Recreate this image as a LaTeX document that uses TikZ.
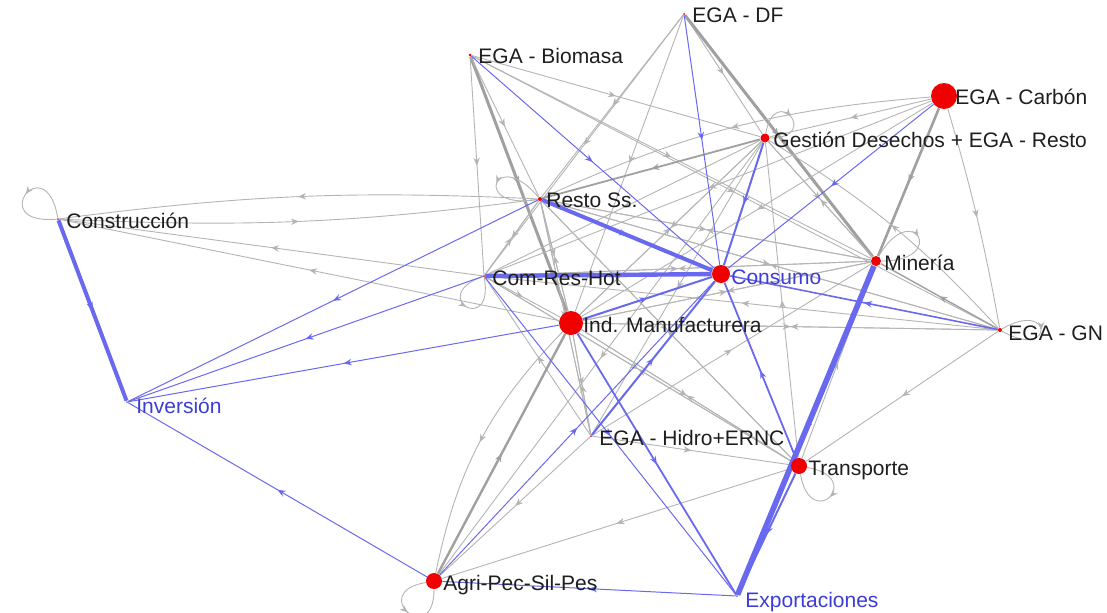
\documentclass[tikz,border=0pt]{standalone}
\usepackage{fontspec}
\setmainfont{Liberation Sans}
\usepackage{xcolor}
\usetikzlibrary{arrows.meta, positioning, decorations.markings, backgrounds}

\definecolor{dotred}{RGB}{240,0,0}
\definecolor{lnkgray}{RGB}{180,180,180}
\definecolor{lnkgraydk}{RGB}{160,160,160}
\definecolor{lnkblue}{RGB}{105,105,240}
\definecolor{fdblue}{RGB}{60,60,215}
\definecolor{txtdark}{RGB}{30,30,30}

\begin{document}
\begin{tikzpicture}[
    x=0.5pt, y=-0.5pt,
    vtx/.style={circle, fill=dotred, inner sep=0pt, minimum size=#1},
    vtx/.default=1pt,
    lbl/.style={anchor=base west, inner sep=0pt, font=\fontsize{10.5}{12}\selectfont, text=txtdark},
    fdlbl/.style={lbl, text=fdblue},
    midarr/.style={postaction={decorate}, decoration={markings, mark=at position 0.5 with {\arrow{Stealth[length=4pt, width=3.2pt]}}}},
    glink/.style={draw=lnkgray, line width=0.45pt, midarr},
    gthick/.style={draw=lnkgraydk, line width=#1, midarr},
    blink/.style={draw=lnkblue, line width=#1, midarr},
    blink/.default=0.5pt,
    gloop/.style={glink, min distance=#1}
]
\useasboundingbox (0,0) rectangle (1107,612);

% Sectors
\node[vtx] (df) at (684,14) {};
\node[vtx=1.5pt] (bio) at (470,55) {};
\node[vtx=13pt] (carbon) at (944,96) {};
\node[vtx=4.5pt] (gest) at (765,138) {};
\node[vtx=2pt] (resto) at (540,199) {};
\node[vtx] (constr) at (58,219) {};
\node[vtx=5pt] (mineria) at (876,261) {};
\node[vtx] (crh) at (484,276) {};
\node[vtx=12pt] (manuf) at (571,323) {};
\node[vtx=2pt] (gn) at (1000,330) {};
\node[vtx] (hidro) at (591,436) {};
\node[vtx=8pt] (transp) at (799,466) {};
\node[vtx=8pt] (agri) at (434,581) {};

% Final demand
\node[vtx=9pt] (consumo) at (721,274) {};
\node[vtx, fill=lnkblue] (inversion) at (127,402) {};
\node[vtx, fill=lnkblue] (export) at (737,596) {};

% Labels
\node[lbl] (dfL) at (692,22) {EGA - DF};
\node[lbl] (bioL) at (478,63) {EGA - Biomasa};
\node[lbl] (carbonL) at (955,104) {EGA - Carbón};
\node[lbl] (gestL) at (773,147) {Gestión Desechos + EGA - Resto};
\node[lbl] (restoL) at (546,207) {Resto Ss.};
\node[lbl] (constrL) at (66,228) {Construcción};
\node[lbl] (mineriaL) at (884,270) {Minería};
\node[lbl] (crhL) at (492,285) {Com-Res-Hot};
\node[fdlbl] (consumoL) at (731,284) {Consumo};
\node[lbl] (manufL) at (583,332) {Ind. Manufacturera};
\node[lbl] (gnL) at (1008,340) {EGA - GN};
\node[fdlbl] (inversionL) at (136,413) {Inversión};
\node[lbl] (hidroL) at (599,445) {EGA - Hidro+ERNC};
\node[lbl] (transpL) at (808,475) {Transporte};
\node[lbl] (agriL) at (443,590) {Agri-Pec-Sil-Pes};
\node[fdlbl] (exportL) at (745,607) {Exportaciones};

\begin{pgfonlayer}{background}
% Biomasa
\draw[glink] (bio) -- (crh);
\draw[gthick=1.5pt] (bio) -- (manuf);
\draw[glink] (bio) -- (resto);
\draw[glink] (bio) -- (gest);
\draw[glink] (bio) -- (mineria);
\draw[glink] (bio) -- (gn);

% DF
\draw[glink] (df) -- (resto);
\draw[glink] (df) -- (crh);
\draw[glink] (df) -- (manuf);
\draw[glink] (df) -- (gest);
\draw[gthick=1.5pt] (df) -- (mineria);

% Carbon
\draw[glink] (carbon) -- (gest);
\draw[glink] (carbon) to[bend right=10] (resto);
\draw[glink] (carbon) -- (crh);
\draw[glink] (carbon) -- (manuf);
\draw[gthick=1.3pt] (carbon) -- (mineria);
\draw[glink] (carbon) to[bend left=3] (gn);

% Gestion
\draw[gthick=0.9pt] (gest) -- (resto);
\draw[glink] (gest) -- (crh);
\draw[glink] (gest) -- (manuf);
\draw[glink] (gest) -- (mineria);
\draw[glink] (gest) -- (hidro);
\draw[glink] (gest) -- (agri);
\draw[gloop=26pt] (gest) to[out=80, in=0] (gest);

% Resto
\draw[glink] (resto) to[bend right=5] (constr);
\draw[glink] (resto) -- (manuf);
\draw[glink] (resto) -- (crh);
\draw[glink] (resto) -- (mineria);
\draw[glink] (resto) -- (gn);
\draw[glink] (resto) -- (transp);
\draw[glink] (resto) -- (hidro);
\draw[gloop=34pt] (resto) to[out=130, in=190] (resto);

% Construccion
\draw[glink] (constr) to[bend right=5] (resto);
\draw[gloop=36pt] (constr) to[out=100, in=185] (constr);

% Com-Res-Hot
\draw[glink] (crh) -- (constr);
\draw[glink] (crh) -- (resto);
\draw[glink] (crh) -- (manuf);
\draw[glink] (crh) -- (mineria);
\draw[glink] (crh) -- (transp);
\draw[gloop=30pt] (crh) to[out=200, in=280] (crh);

% Ind. Manufacturera
\draw[glink] (manuf) -- (constr);
\draw[glink] (manuf) -- (resto);
\draw[glink] (manuf) -- (gest);
\draw[glink] (manuf) -- (mineria);
\draw[glink] (manuf) -- (gn);
\draw[glink] (manuf) -- (transp);
\draw[glink] (manuf) -- (hidro);
\draw[glink] (manuf) to[bend right=16] (agri);

% Mineria
\draw[glink] (mineria) -- (crh);
\draw[glink] (mineria) -- (manuf);
\draw[glink] (mineria) -- (resto);
\draw[glink] (mineria) -- (gest);
\draw[gloop=34pt] (mineria) to[out=60, in=0] (mineria);

% GN
\draw[glink] (gn) -- (manuf);
\draw[glink] (gn) -- (crh);
\draw[gthick=0.7pt] (gn) -- (mineria);
\draw[glink] (gn) -- (transp);
\draw[glink] (gn) to[bend right=8] (gest);
\draw[glink] (gn) -- (resto);
\draw[gloop=30pt] (gn) to[out=30, in=-30] (gn);

% Transporte
\draw[glink] (transp) -- (manuf);
\draw[glink] (transp) -- (crh);
\draw[glink] (transp) -- (resto);
\draw[glink] (transp) -- (agri);
\draw[glink] (transp) -- (mineria);
\draw[glink] (transp) -- (gest);
\draw[gloop=30pt] (transp) to[out=-10, in=-80] (transp);

% Hidro
\draw[glink] (hidro) -- (manuf);
\draw[glink] (hidro) -- (transp);
\draw[glink] (hidro) -- (mineria);
\draw[glink] (hidro) -- (agri);
\draw[glink] (hidro) -- (crh);
\draw[glink] (hidro) -- (resto);

% Agri
\draw[gthick=1.2pt] (agri) -- (manuf);
\draw[gloop=30pt] (agri) to[out=190, in=270] (agri);

% Consumo
\draw[blink=2pt] (resto) -- (consumo);
\draw[blink=2.2pt] (crh) -- (consumo);
\draw[blink=1pt] (manuf) -- (consumo);
\draw[blink=1pt] (gest) -- (consumo);
\draw[blink] (df) -- (consumo);
\draw[blink] (bio) -- (consumo);
\draw[blink] (carbon) -- (consumo);
\draw[blink=0.8pt] (gn) -- (consumo);
\draw[blink=0.9pt] (transp) -- (consumo);
\draw[blink=1pt] (hidro) -- (consumo);
\draw[blink] (agri) -- (consumo);

% Inversion
\draw[blink=2pt] (constr) -- (inversion);
\draw[blink] (resto) -- (inversion);
\draw[blink] (crh) -- (inversion);
\draw[blink] (manuf) -- (inversion);
\draw[blink] (agri) -- (inversion);

% Exportaciones
\draw[blink=2.8pt] (mineria) -- (export);
\draw[blink=1pt] (transp) -- (export);
\draw[blink=0.9pt] (manuf) -- (export);
\draw[blink] (crh) -- (export);
\draw[blink] (export) -- (agri);
\end{pgfonlayer}
\end{tikzpicture}
\end{document}
